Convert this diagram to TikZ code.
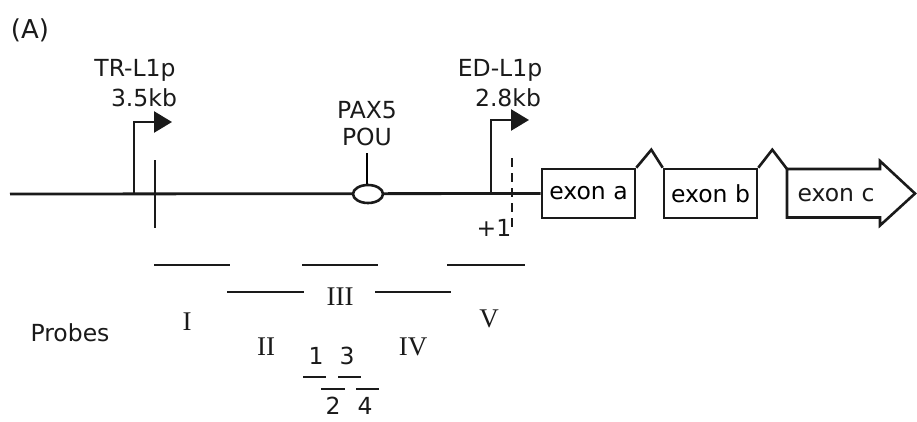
\documentclass[tikz,border=0pt]{standalone}
\usepackage{fontspec}
\setmainfont{DejaVu Sans}
\newfontfamily\romfont{Liberation Serif}
\usetikzlibrary{shapes.geometric, arrows.meta, positioning, calc}
\definecolor{ink}{HTML}{1A1A1A}
\definecolor{thin}{HTML}{5A5A5A}
\tikzset{
  dna/.style      = {draw=ink, line width=2.8pt},
  exonbox/.style  = {draw=ink, line width=2.6pt, rectangle, minimum width=93pt,
                     minimum height=49pt, inner sep=0pt, font=\fontsize{23.5}{25}\selectfont},
  tss/.style      = {draw=ink, line width=2.6pt, -{Triangle[length=18pt, width=21pt]}},
  lbl/.style      = {font=\fontsize{23.5}{25}\selectfont, text=ink, inner sep=1pt},
  roman/.style    = {font=\romfont\fontsize{27}{29}\selectfont, text=ink, inner sep=1pt},
  probe/.style    = {draw=ink, line width=2.8pt},
  site/.style     = {draw=ink, line width=2.6pt, ellipse, minimum width=30pt,
                     minimum height=18pt, inner sep=0pt},
}

\begin{document}
\begin{tikzpicture}[x=1pt, y=-1pt]
  \useasboundingbox (0,0) rectangle (917,421);

  \node[lbl, font=\fontsize{26}{28}\selectfont] (panel) at (30,30) {(A)};

  % gene body
  \coordinate (left) at (10,194);
  \node[exonbox] (exa) at (588.5,193.5) {exon a};
  \node[exonbox] (exb) at (710.5,193.5) {exon b};
  \coordinate (cnw) at (787,169);
  \node[lbl] (exc) at (836,195) {exon c};
  \draw[dna] (left) -- (exa.west);
  \draw[dna, line width=2.6pt] (exa.north east) -- ++(15,-18) -- (exb.north west);
  \draw[dna, line width=2.6pt] (exb.north east) -- ++(14,-18) -- (cnw);
  \draw[dna, line width=2.6pt] (cnw) -- ++(93,0) -- ++(0,-8) -- (915,193.5)
    -- (880,225.5) -- ++(0,-8) -- ++(-93,0) -- cycle;

  % promoters
  \coordinate (trbase) at (134,194);
  \coordinate (edbase) at (491,194);
  \draw[tss] (trbase) |- (172,122);
  \draw[tss] (edbase) |- (529,120);
  \node[lbl] (trname) at (135,70) {TR-L1p};
  \node[lbl] (trsize) at (144,98) {3.5kb};
  \node[lbl] (edname) at (500,70) {ED-L1p};
  \node[lbl] (edsize) at (508,98) {2.8kb};
  \draw[dna, line width=2.6pt] (155,160) -- (155,228);
  \draw[dna, line width=2.6pt, dash pattern=on 9pt off 6pt] (512,158) -- (512,232);
  \node[lbl] (plus) at (494,228) {+1};

  % binding site
  \node[site, fill=white] (pax) at (368,194) {};
  \node[lbl] (paxa) at (367,110) {PAX5};
  \node[lbl] (paxb) at (367,137) {POU};
  \draw[thin, line width=1.2pt] (pax.north) ++(-1,0) -- ++(0,-31);

  % probes
  \node[lbl] (probes) at (70,333) {Probes};
  \foreach \xa/\xb/\yy in {154/230/265, 302/378/265, 447/525/265, 227/304/292, 375/451/292}
    \draw[probe] (\xa,\yy) -- (\xb,\yy);
  \foreach \xa/\xb/\yy in {303/326/377, 338/361/377, 321/345/389, 356/379/389}
    \draw[probe] (\xa,\yy) -- (\xb,\yy);
  \node[roman] (pI)   at (187,322) {I};
  \node[roman] (pII)  at (266,347) {II};
  \node[roman] (pIII) at (340,297) {III};
  \node[roman] (pIV)  at (413,347) {IV};
  \node[roman] (pV)   at (489,319) {V};
  \node[lbl] (s1) at (316,356) {1};
  \node[lbl] (s3) at (347,356) {3};
  \node[lbl] (s2) at (333,406) {2};
  \node[lbl] (s4) at (365,406) {4};
\end{tikzpicture}
\end{document}
